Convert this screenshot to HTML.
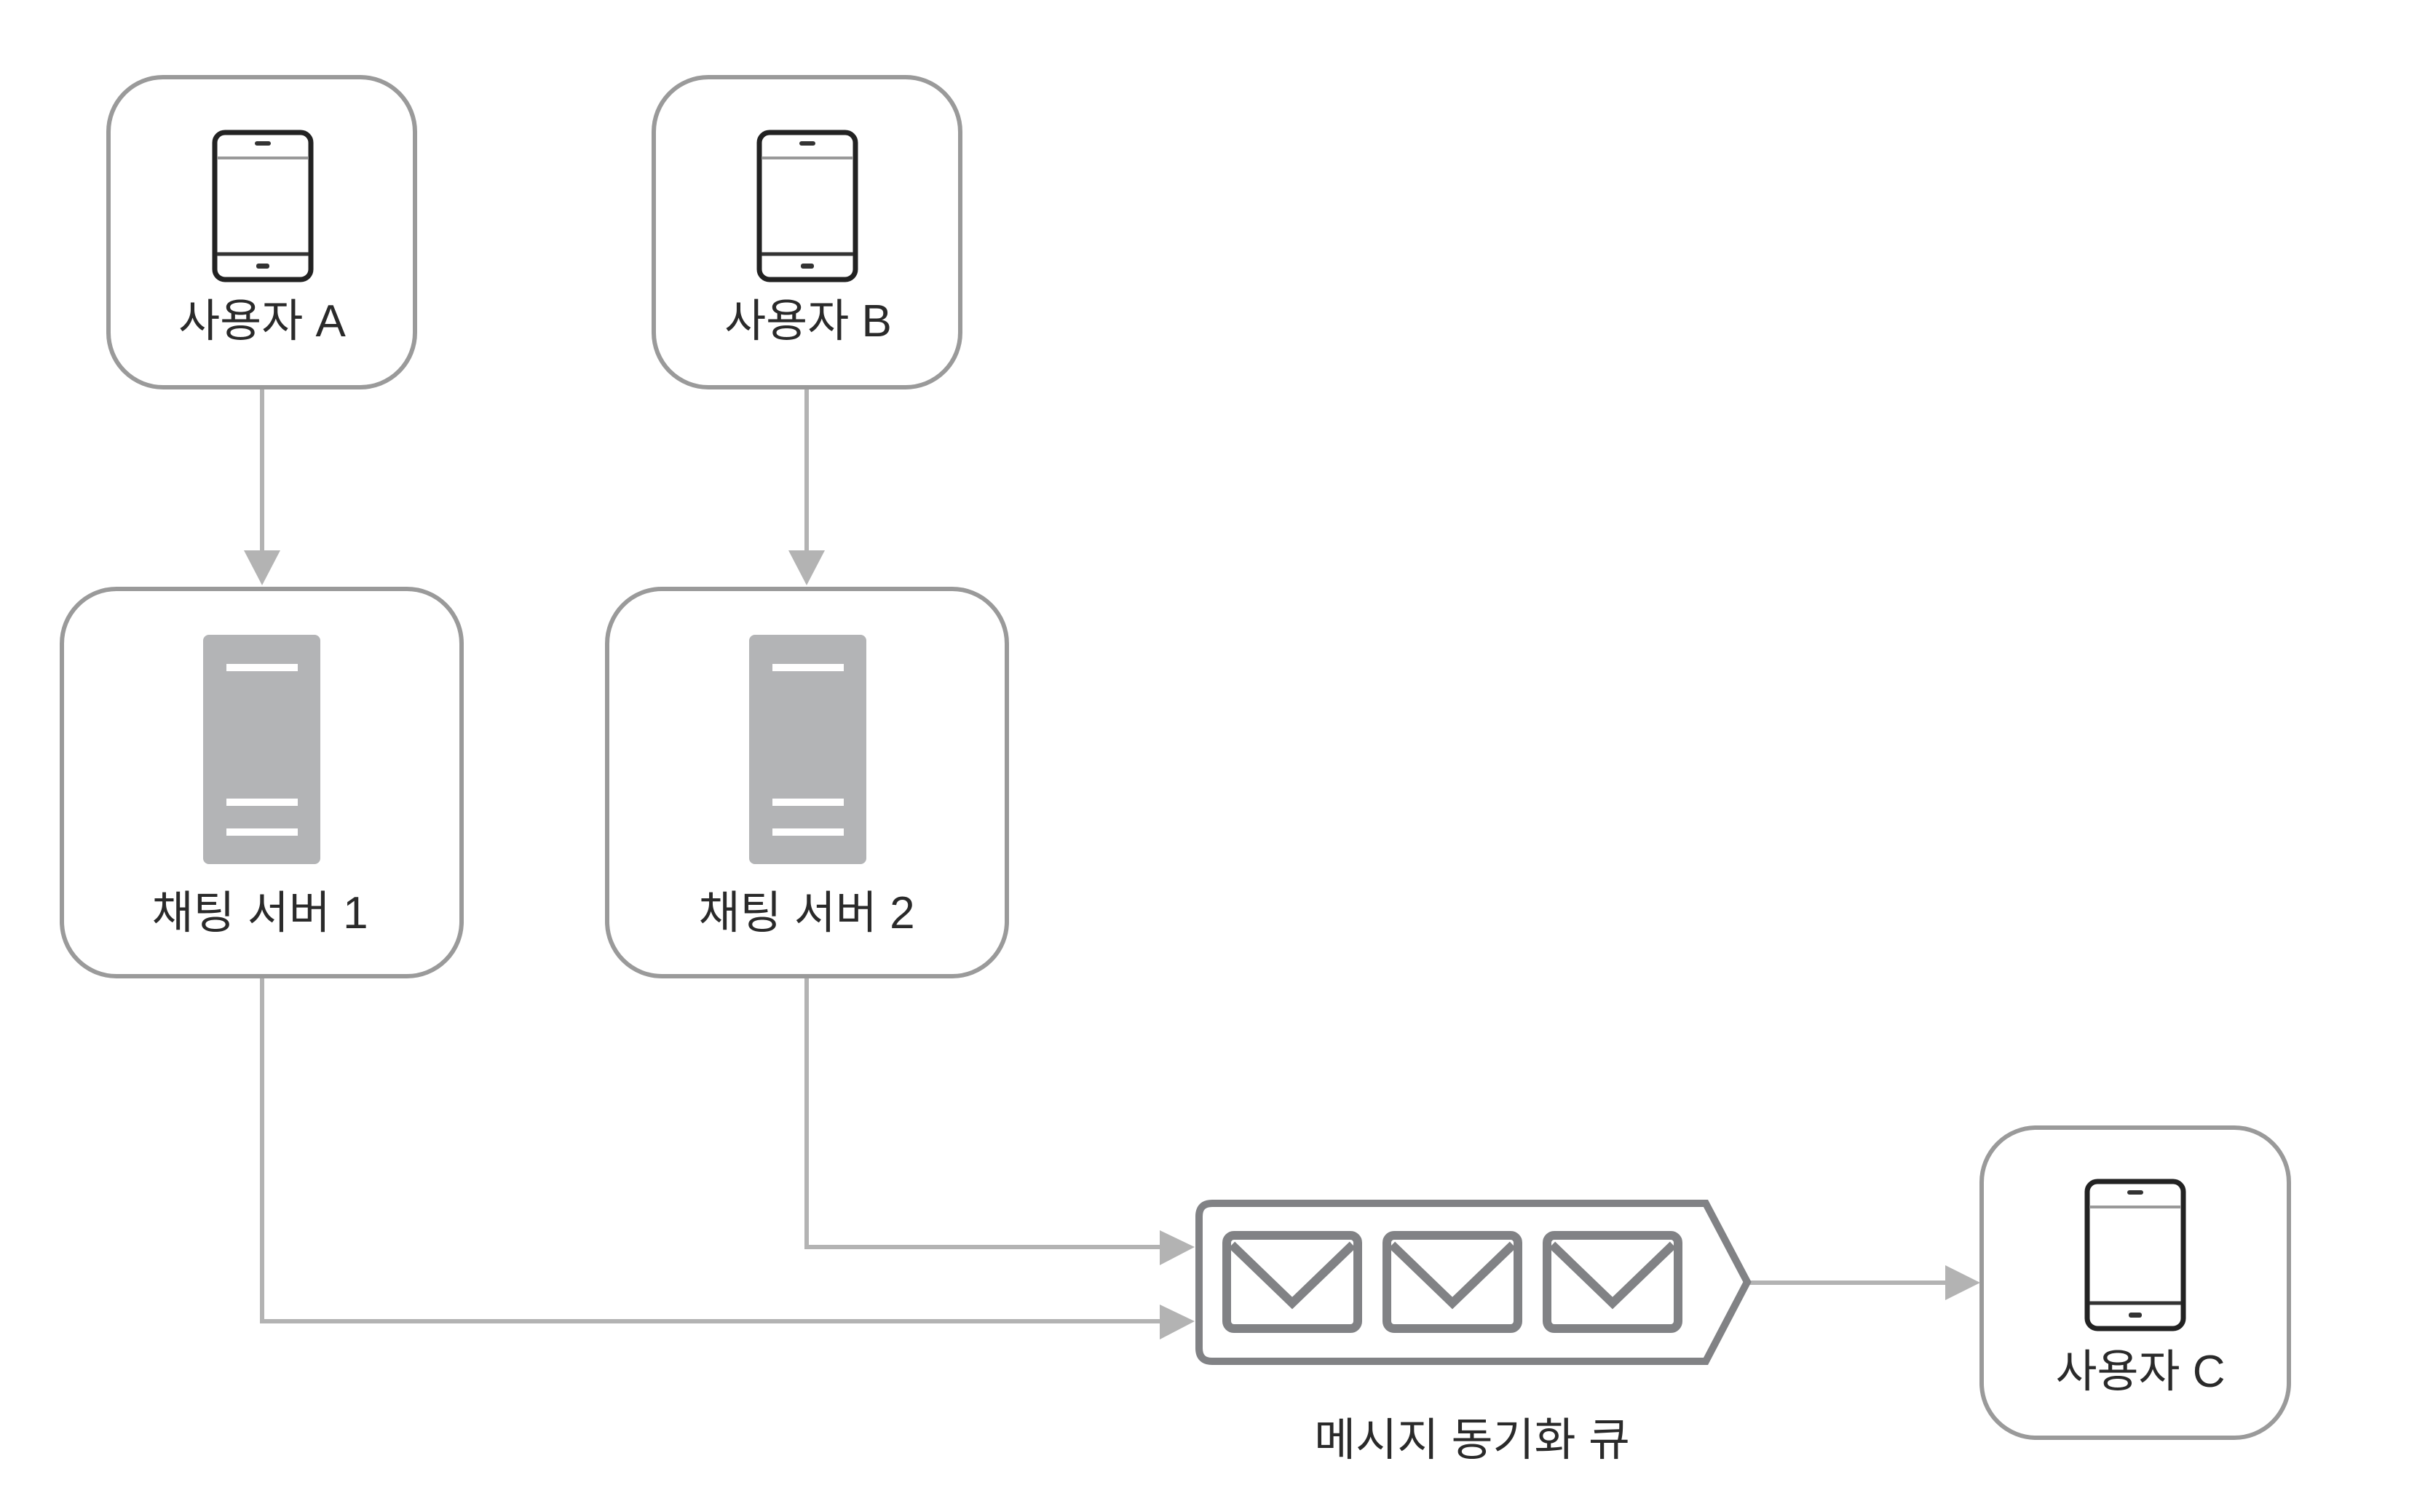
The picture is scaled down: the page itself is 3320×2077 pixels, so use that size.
<!DOCTYPE html>
<html><head><meta charset="utf-8"><style>
html,body{margin:0;padding:0;background:#fff;}
svg text{font-family:"Liberation Sans","Noto Sans CJK KR",sans-serif;fill:#2a2a2a;}
</style></head><body>
<svg width="3320" height="2072" viewBox="0 0 3320 2072" xmlns="http://www.w3.org/2000/svg">
<defs>
<g id="phone">
<rect x="3" y="3" width="132" height="202" rx="14" fill="#fff" stroke="#222" stroke-width="7"/>
<line x1="6" y1="38" x2="132" y2="38" stroke="#999" stroke-width="4"/>
<line x1="6" y1="170" x2="132" y2="170" stroke="#333" stroke-width="5"/>
<rect x="58" y="15" width="22" height="6" rx="3" fill="#333"/>
<rect x="60" y="183" width="18" height="7" rx="3" fill="#333"/>
</g>
<g id="server">
<rect x="0" y="0" width="161" height="315" rx="8" fill="#b3b4b6"/>
<rect x="32" y="40" width="98" height="10" fill="#fff"/>
<rect x="32" y="225" width="98" height="10" fill="#fff"/>
<rect x="32" y="266" width="98" height="10" fill="#fff"/>
</g>
<g id="env">
<rect x="5" y="5" width="180" height="128" rx="10" fill="#fff" stroke="#818285" stroke-width="12"/>
<polyline points="12,18 95,98 178,18" fill="none" stroke="#818285" stroke-width="12"/>
</g>
</defs>
<g fill="none" stroke="#9a9a9a" stroke-width="6">
<rect x="149" y="106" width="421" height="426" rx="75"/>
<rect x="898" y="106" width="421" height="426" rx="75"/>
<rect x="85" y="809" width="549" height="532" rx="75"/>
<rect x="834" y="809" width="549" height="532" rx="75"/>
<rect x="2722" y="1549" width="422" height="426" rx="75"/>
</g>
<g fill="none" stroke="#b3b3b3" stroke-width="6">
<line x1="360" y1="535" x2="360" y2="760"/>
<line x1="1108" y1="535" x2="1108" y2="760"/>
<polyline points="360,1344 360,1815 1600,1815"/>
<polyline points="1108,1344 1108,1713 1600,1713"/>
<line x1="2400" y1="1762" x2="2678" y2="1762"/>
</g>
<g fill="#b3b3b3">
<polygon points="335,756 385,756 360,804"/>
<polygon points="1083,756 1133,756 1108,804"/>
<polygon points="1593,1690 1593,1738 1641,1713"/>
<polygon points="1593,1792 1593,1840 1641,1815"/>
<polygon points="2672,1738 2672,1786 2720,1762"/>
</g>
<g transform="translate(-10,0)">
<path d="M1675,1653 L2353,1653 L2410,1761 L2353,1870 L1675,1870 Q1657,1870 1657,1852 L1657,1671 Q1657,1653 1675,1653 Z" fill="#fff" stroke="#818285" stroke-width="10"/>
<use href="#env" x="1690" y="1692"/>
<use href="#env" x="1910" y="1692"/>
<use href="#env" x="2130" y="1692"/>
</g>
<use href="#phone" x="292" y="179"/>
<use href="#phone" x="1040" y="179"/>
<use href="#phone" x="2864" y="1620"/>
<use href="#server" x="279" y="872"/>
<use href="#server" x="1029" y="872"/>
<g font-size="62" text-anchor="middle">
<text x="360" y="462">사용자 A</text>
<text x="1110" y="462">사용자 B</text>
<text x="357" y="1275">채팅 서버 1</text>
<text x="1108" y="1275">채팅 서버 2</text>
<text x="2940" y="1905">사용자 C</text>
<text x="2022" y="1999">메시지 동기화 큐</text>
</g>
</svg>
</body></html>
